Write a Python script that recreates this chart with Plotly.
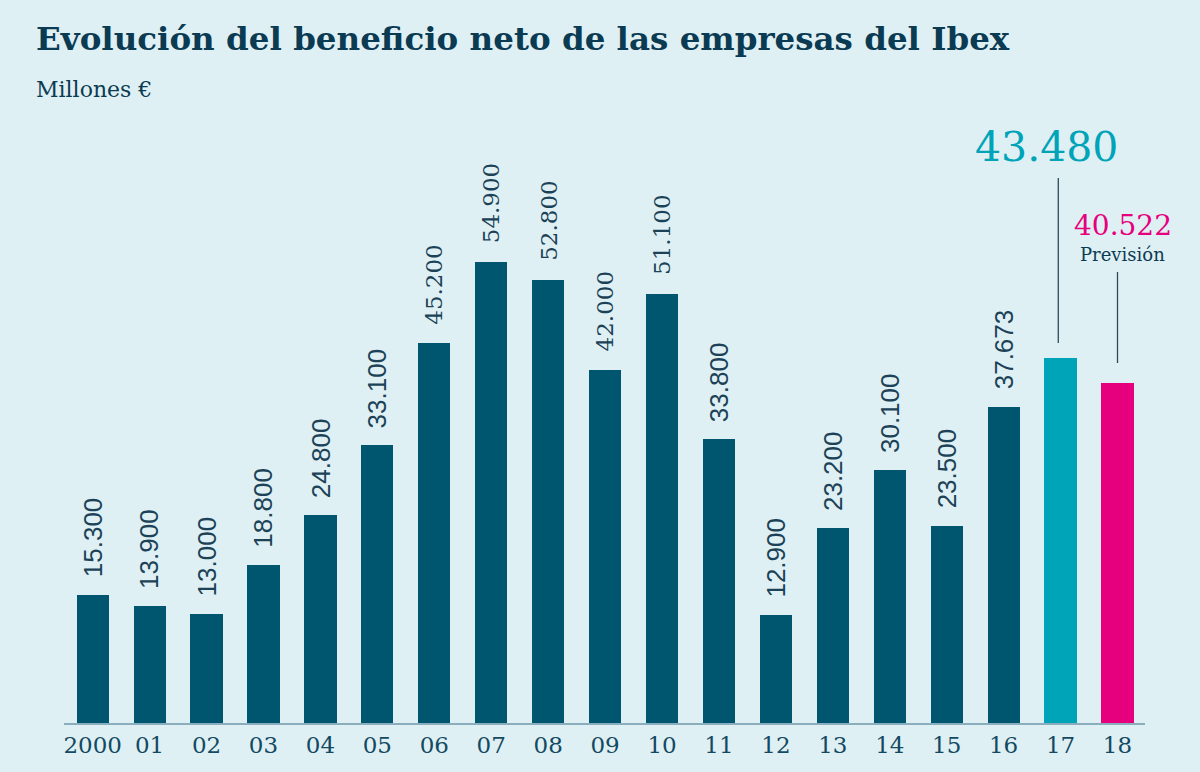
import plotly.graph_objects as go

years = ["2000", "01", "02", "03", "04", "05", "06", "07", "08", "09",
         "10", "11", "12", "13", "14", "15", "16", "17", "18"]
values = [15300, 13900, 13000, 18800, 24800, 33100, 45200, 54900, 52800, 42000,
          51100, 33800, 12900, 23200, 30100, 23500, 37673, 43480, 40522]
value_labels = ["15.300", "13.900", "13.000", "18.800", "24.800", "33.100", "45.200",
                "54.900", "52.800", "42.000", "51.100", "33.800", "12.900", "23.200",
                "30.100", "23.500", "37.673", "43.480", "40.522"]
# labels 2006-2010 are set in a serif face in the original
serif_label = [False] * 6 + [True] * 5 + [False] * 8

BG = "#dff0f4"
DARK = "#0b3b52"
LABEL = "#1b4257"
BAR = "#00566f"
CYAN = "#00a4b8"
PINK = "#e6007e"
SERIF = "DejaVu Serif"
SANS = "Liberation Sans"

colors = [BAR] * 17 + [CYAN, PINK]
xs = list(range(len(years)))

fig = go.Figure()
fig.add_trace(go.Bar(x=xs, y=values, marker=dict(color=colors, line=dict(width=0)),
                     width=0.565, hoverinfo="skip"))

annotations = []
for i in range(17):
    if serif_label[i]:
        fnt = dict(family=SERIF, size=23, color=LABEL)
        ys = 17
    else:
        fnt = dict(family=SANS, size=26, color=LABEL)
        ys = 15
    annotations.append(dict(x=xs[i], y=values[i], xref="x", yref="y", text=value_labels[i],
                            textangle=-90, showarrow=False, xanchor="center", yanchor="bottom",
                            yshift=ys, font=fnt))

# highlighted 2017 / 2018 labels
annotations.append(dict(x=xs[17], y=values[17], xref="x", yref="y", text=value_labels[17],
                        showarrow=False, xanchor="center", yanchor="middle", xshift=-14, yshift=211,
                        font=dict(family=SERIF, size=41, color=CYAN)))
annotations.append(dict(x=xs[18], y=values[18], xref="x", yref="y", text=value_labels[18],
                        showarrow=False, xanchor="center", yanchor="middle", xshift=5, yshift=157,
                        font=dict(family=SERIF, size=28, color=PINK)))
annotations.append(dict(x=xs[18], y=values[18], xref="x", yref="y", text="Previsión",
                        showarrow=False, xanchor="center", yanchor="middle", xshift=5, yshift=128,
                        font=dict(family=SERIF, size=18, color=DARK)))

# title / subtitle
annotations.append(dict(x=34, y=38, xref="paper", yref="paper", text="<b>Evolución del beneficio neto de las empresas del Ibex</b>",
                        showarrow=False, xanchor="left", yanchor="middle",
                        font=dict(family=SERIF, size=32.5, color=DARK)))
annotations.append(dict(x=34, y=90, xref="paper", yref="paper", text="Millones €",
                        showarrow=False, xanchor="left", yanchor="middle",
                        font=dict(family=SERIF, size=22, color=DARK)))

W, H = 1200, 772
ml, mr, mt, mb = 64, 55, 100, 49
pw, ph = W - ml - mr, H - mt - mb
for a in annotations[-2:]:
    a["x"] = (a["x"] - ml) / pw
    a["y"] = (H - mb - a["y"]) / ph

px_per_unit = 461 / 54900.0
ymax = ph / px_per_unit

def yv(pix):
    return (H - mb - pix) / px_per_unit

shapes = [
    dict(type="line", xref="x", yref="y", x0=xs[17] - 0.04, x1=xs[17] - 0.04,
         y0=yv(343), y1=yv(178), line=dict(color="#2c4a58", width=1.3)),
    dict(type="line", xref="x", yref="y", x0=xs[18], x1=xs[18],
         y0=yv(363), y1=yv(272), line=dict(color="#2c4a58", width=1.3)),
]

fig.update_layout(
    width=W, height=H,
    margin=dict(l=ml, r=mr, t=mt, b=mb),
    paper_bgcolor=BG, plot_bgcolor=BG,
    showlegend=False,
    annotations=annotations,
    shapes=shapes,
    bargap=0,
    xaxis=dict(range=[-0.504, 18.483], tickmode="array", tickvals=xs, ticktext=years,
               showgrid=False, zeroline=False, showline=True, linecolor="#8aaebe", linewidth=2,
               ticks="", tickfont=dict(family=SERIF, size=23, color="#134a62"), fixedrange=True),
    yaxis=dict(range=[0, ymax], visible=False, showgrid=False, zeroline=False, fixedrange=True),
)

fig.write_html("out.html", config={"displayModeBar": False},
               post_script="document.body.style.margin='0';document.body.style.background='" + BG + "';")
